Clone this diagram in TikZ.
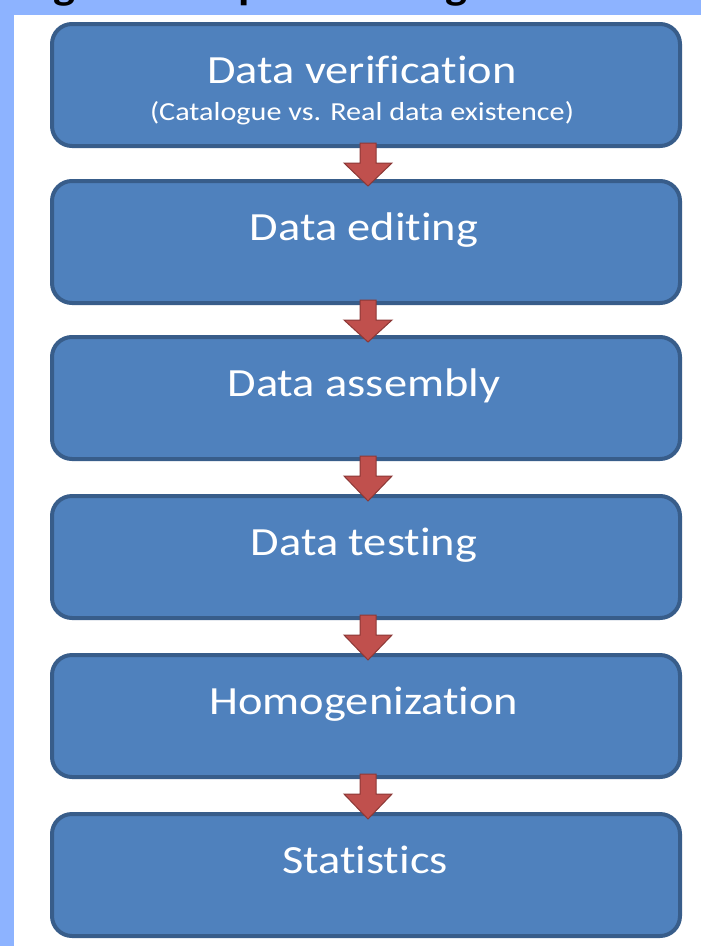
\documentclass[tikz,border=0pt]{standalone}
\usepackage{fontspec}
\setmainfont{Carlito}[Ligatures=NoCommon, FakeStretch=1.16]
\usetikzlibrary{calc}
\definecolor{bgblue}{HTML}{8DB3FF}
\definecolor{boxfill}{HTML}{4F81BD}
\definecolor{boxline}{HTML}{385D8A}
\definecolor{arrfill}{HTML}{C0504D}
\definecolor{arrline}{HTML}{8C3836}
\tikzset{
  stagebox/.style={draw=boxline, fill=boxfill, line width=4pt, rounded corners=20pt,
    minimum width=628pt, minimum height=122pt, inner sep=0pt},
  stagelabel/.style={anchor=base, text=white, inner sep=0pt, font=\fontsize{40}{48}\selectfont},
  sublabel/.style={anchor=base, text=white, inner sep=0pt, font=\fontsize{26}{30}\selectfont},
  downarrow/.style={fill=arrfill, draw=arrline, line width=1pt, line join=miter},
  titlefrag/.style={anchor=base west, inner sep=0pt, text=black, font=\fontsize{40}{48}\selectfont\bfseries}
}
\begin{document}
\begin{tikzpicture}[x=1pt,y=-1pt]
\useasboundingbox (0,0) rectangle (701,946);
\fill[bgblue] (0,0) rectangle (701,946);
\fill[white] (14,15) rectangle (701,946);
\begin{scope}
\clip (0,0) rectangle (701,15);
\node[titlefrag] (t1) at (53,-1) {g};
\node[titlefrag] (t2) at (238,-1) {p};
\node[titlefrag] (t3) at (445,-1) {g};
\end{scope}
% boxes (outer tops: 22,179,335,494,653,812; height 126)
\node[stagebox] (b1) at (366,85) {};
\node[stagebox] (b2) at (366,242) {};
\node[stagebox] (b3) at (366,398) {};
\node[stagebox] (b4) at (366,557) {};
\node[stagebox] (b5) at (366,716) {};
\node[stagebox] (b6) at (366,875) {};
% labels
\node[stagelabel] (l1) at (362,83) {Data verification};
\node[sublabel] (s1) at (362,120) {(Catalogue vs. Real data existence)};
\node[stagelabel] (l2) at (364,240) {Data editing};
\node[stagelabel] (l3) at (364,396) {Data assembly};
\node[stagelabel] (l4) at (364,555) {Data testing};
\node[stagelabel] (l5) at (364,714) {Homogenization};
\node[stagelabel] (l6) at (365,873) {Statistics};
% arrows
\foreach \a/\b in {b1/b2,b2/b3,b3/b4,b4/b5,b5/b6}{
  \draw[downarrow] ($(\a.south)+(-6,-5)$) -- ($(\a.south)+(10,-5)$) -- ($(\a.south)+(10,15)$)
    -- ($(\a.south)+(26,15)$) -- ($(\b.north)+(2,7)$) -- ($(\a.south)+(-22,15)$)
    -- ($(\a.south)+(-6,15)$) -- cycle;
}
\end{tikzpicture}
\end{document}
